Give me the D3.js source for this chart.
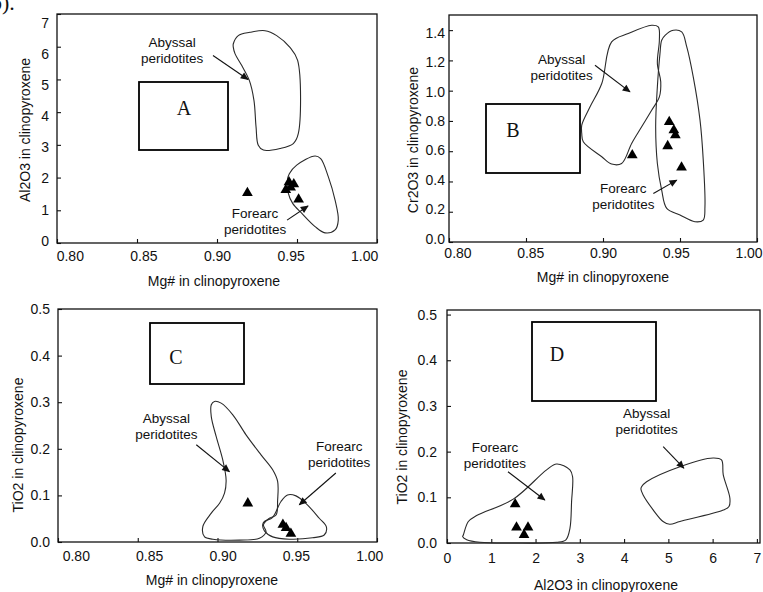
<!DOCTYPE html>
<html><head><meta charset="utf-8">
<script src="https://cdn.jsdelivr.net/npm/d3@7/dist/d3.min.js"></script>
<style>
body{margin:0;background:#fff}
svg{display:block}
text{font-family:"Liberation Sans",Arial,sans-serif;fill:#111}
</style>
</head><body>
<svg id="c" width="763" height="592"></svg>
<script>
// ---------------- DATA ----------------
const mgTicks = [0.80, 0.85, 0.90, 0.95, 1.00];
const al2o3Ticks = [0, 1, 2, 3, 4, 5, 6, 7];
const cr2o3Ticks = [0.0, 0.2, 0.4, 0.6, 0.8, 1.0, 1.2, 1.4];
const tio2Ticks = [0.0, 0.1, 0.2, 0.3, 0.4, 0.5];

// samples (triangles)
const aMg = [0.919, 0.943, 0.945, 0.946, 0.948, 0.951];
const aAl2O3 = [1.53, 1.62, 1.86, 1.70, 1.80, 1.33];
const bMg = [0.919, 0.943, 0.946, 0.947, 0.942, 0.951];
const bCr2O3 = [0.574, 0.794, 0.739, 0.706, 0.634, 0.493];
const cMg = [0.919, 0.941, 0.943, 0.946];
const cTiO2 = [0.083, 0.037, 0.030, 0.018];
const dAl2O3 = [1.54, 1.57, 1.83, 1.74];
const dTiO2 = [0.085, 0.034, 0.034, 0.018];

// fields (outlines), [x, y]
const aAbyssal = [[0.9102,6.09],[0.9133,6.34],[0.9206,6.44],[0.930,6.49],[0.9373,6.34],[0.9456,5.98],[0.9504,5.58],[0.9508,3.34],[0.9477,3.04],[0.9394,2.89],[0.929,2.84],[0.9258,2.99],[0.9244,3.55],[0.9231,4.36],[0.9202,4.97],[0.9154,5.43],[0.9113,5.78],[0.9102,5.98]];
const aForearc = [[0.9452,2.12],[0.9498,2.38],[0.9613,2.66],[0.9648,2.58],[0.9696,2.02],[0.9738,1.31],[0.9758,0.70],[0.9738,0.40],[0.9675,0.31],[0.9613,0.50],[0.9529,0.91],[0.9473,1.21],[0.9446,1.52],[0.944,1.92]];
const bAbyssal = [[0.8862,0.772],[0.8916,0.893],[0.8992,1.047],[0.9056,1.322],[0.9164,1.377],[0.9316,1.432],[0.9359,1.421],[0.9366,1.333],[0.9353,1.18],[0.9375,1.058],[0.9366,0.959],[0.9316,0.871],[0.9251,0.761],[0.9186,0.651],[0.9121,0.519],[0.9056,0.515],[0.8992,0.563],[0.8872,0.662],[0.8862,0.717]];
const bForearc = [[0.9403,1.366],[0.9457,1.399],[0.9511,1.388],[0.9544,1.289],[0.9586,1.091],[0.963,0.805],[0.9651,0.541],[0.9662,0.233],[0.9651,0.145],[0.9597,0.134],[0.95,0.178],[0.9414,0.222],[0.9381,0.343],[0.9353,0.519],[0.9342,0.761],[0.9353,1.025],[0.937,1.245],[0.9381,1.333]];
const cAbyssal = [[0.8961,0.2946],[0.8981,0.3017],[0.9023,0.298],[0.9096,0.273],[0.9179,0.230],[0.9273,0.187],[0.9346,0.155],[0.9377,0.130],[0.9377,0.090],[0.9367,0.058],[0.9325,0.051],[0.9288,0.037],[0.9304,0.022],[0.9263,0.008],[0.9138,0.004],[0.8971,0.006],[0.8919,0.011],[0.8908,0.033],[0.8961,0.062],[0.9013,0.083],[0.9044,0.105],[0.9054,0.133],[0.9033,0.176],[0.8992,0.226],[0.8961,0.269]];
const cForearc = [[0.9294,0.044],[0.9346,0.053],[0.9398,0.087],[0.9439,0.101],[0.9492,0.099],[0.9554,0.083],[0.9638,0.051],[0.9683,0.032],[0.9669,0.015],[0.9596,0.009],[0.945,0.006],[0.9346,0.011],[0.9294,0.024],[0.9283,0.037]];
const dForearc = [[0.369,0.0175],[0.482,0.047],[0.670,0.060],[1.497,0.096],[2.25,0.160],[2.476,0.173],[2.777,0.160],[2.837,0.145],[2.814,0.091],[2.777,0.032],[2.686,0.007],[2.476,0.0015],[1.497,0.0],[0.745,0.0015],[0.445,0.007],[0.354,0.014]];
const dAbyssal = [[4.395,0.123],[4.508,0.134],[5.26,0.167],[6.01,0.186],[6.20,0.182],[6.24,0.149],[6.39,0.098],[6.37,0.080],[6.24,0.072],[5.26,0.047],[5.03,0.041],[4.88,0.047],[4.66,0.072],[4.43,0.105],[4.38,0.118]];

// labels and annotation anchors (data units)
const fieldNames = ["Abyssal", "Forearc"];
const aNotes = [[0.8719,6.13,0.8975,5.73,0.9194,5.0],[0.9238,0.915,0.9438,0.70,0.9569,1.13]];
const bNotes = [[0.8732,1.2125,0.8948,1.168,0.9175,0.992],[0.9132,0.354,0.9327,0.321,0.9479,0.409]];
const cNotes = [[0.8679,0.266,0.8867,0.2086,0.9075,0.151],[0.9763,0.205,0.9742,0.148,0.9513,0.080]];
const dNotes = [[4.508,0.284,4.883,0.211,5.35,0.164],[1.084,0.211,1.377,0.156,2.21,0.094]];

// ---------------- DRAW ----------------
const svg = d3.select("#c");
const defs = svg.append("defs");
defs.append("marker").attr("id","ah").attr("viewBox","0 0 10 10")
  .attr("refX",9).attr("refY",5).attr("markerWidth",9).attr("markerHeight",8)
  .attr("markerUnits","userSpaceOnUse").attr("orient","auto")
  .append("path").attr("d","M0,0.5 L10,5 L0,9.5 Z").attr("fill","#111");

svg.append("text").attr("x",-9).attr("y",10).style("font-family","'Liberation Serif',serif")
  .style("font-size","22px").text("b).");

function panel(o){
  const g = svg.append("g");
  const x = d3.scaleLinear().domain(o.xd).range([o.l,o.r]);
  const y = d3.scaleLinear().domain(o.yd).range([o.b,o.t]);
  // axes
  const ax = g.append("g").attr("transform",`translate(0,${o.b})`)
    .call(d3.axisBottom(x).tickValues(o.xt).tickFormat(o.xf).tickSize(-4).tickPadding(o.xpad));
  const ay = g.append("g").attr("transform",`translate(${o.l},0)`)
    .call(d3.axisLeft(y).tickValues(o.yt).tickFormat(o.yf).tickSize(-4).tickPadding(o.ypad));
  [ax,ay].forEach(a=>{a.select(".domain").remove();
    a.selectAll("line").attr("stroke","#111").attr("stroke-width",1.1);
    a.selectAll("text").style("font-size","14px").style("font-family","'Liberation Sans',Arial,sans-serif").attr("fill","#111");});
  // label placement as in the scanned figure (slightly compressed relative to ticks)
  if (o.xl) ax.selectAll(".tick text").attr("x", d => (o.xl[0] - x(d)) * o.xl[1] + o.xl[2]);
  if (o.yl) ay.selectAll(".tick text").attr("y", d => (o.yl[0] - y(d)) * o.yl[1] + o.yl[2]);
  g.append("rect").attr("x",o.l).attr("y",o.t).attr("width",o.r-o.l).attr("height",o.b-o.t)
    .attr("fill","none").attr("stroke","#111").attr("stroke-width",1.3);
  // titles
  g.append("text").attr("x",o.xtx).attr("y",o.xty).attr("dy","0.35em").attr("text-anchor","middle")
    .style("font-size","14px").text(o.xtitle);
  g.append("text").attr("transform",`translate(${o.ytx},${o.yty}) rotate(-90)`).attr("dy","0.35em")
    .attr("text-anchor","middle").style("font-size","14px").text(o.ytitle);
  // fields
  const line = d3.line().x(d=>x(d[0])).y(d=>y(d[1])).curve(d3.curveCatmullRomClosed.alpha(0.5));
  o.fields.forEach(f=>g.append("path").attr("d",line(f)).attr("fill","none")
    .attr("stroke","#2a2a2a").attr("stroke-width",1.1));
  // samples
  const tri = d3.symbol().type(d3.symbolTriangle).size(50);
  g.selectAll(".s").data(o.sx.map((v,i)=>[v,o.sy[i]])).enter().append("path")
    .attr("transform",d=>`translate(${x(d[0])},${y(d[1])})`).attr("d",tri()).attr("fill","#000");
  // notes
  o.notes.forEach((n,i)=>{
    const t = g.append("text").attr("text-anchor","middle").style("font-size","13.5px");
    t.append("tspan").attr("x",x(n[0])).attr("y",y(n[1])+5).text(o.names[i]);
    t.append("tspan").attr("x",x(n[0])).attr("y",y(n[1])+21).text("peridotites");
    g.append("line").attr("x1",x(n[2])).attr("y1",y(n[3])).attr("x2",x(n[4])).attr("y2",y(n[5]))
      .attr("stroke","#111").attr("stroke-width",1.1).attr("marker-end","url(#ah)");
  });
  // letter box
  g.append("rect").attr("x",o.box[0]).attr("y",o.box[1]).attr("width",o.box[2]).attr("height",o.box[3])
    .attr("fill","#fff").attr("stroke","#000").attr("stroke-width",1.8);
  g.append("text").attr("x",o.box[4]).attr("y",o.box[5]).attr("dy","0.35em").attr("text-anchor","middle")
    .style("font-family","'Liberation Serif',serif").style("font-size","20px").text(o.letter);
}

const f2 = d3.format(".2f"), f1 = d3.format(".1f"), f0 = d3.format("d");

panel({l:57,r:377,t:14,b:243,xd:[0.8,1.0],yd:[0,7],xt:mgTicks,yt:al2o3Ticks,xf:f2,yf:f0,xpad:8,ypad:8,
  xl:[217,0.08,0], yl:[135,0.05,3],
  xtitle:"Mg# in clinopyroxene",xtx:214,xty:281,ytitle:"Al2O3 in clinopyroxene",ytx:25,yty:130,
  fields:[aAbyssal,aForearc],sx:aMg,sy:aAl2O3,notes:aNotes,names:fieldNames,
  box:[139,82,89,68,184,108],letter:"A"});
panel({l:449,r:757,t:15,b:242,xd:[0.8,1.0],yd:[0,1.5],xt:mgTicks,yt:cr2o3Ticks,xf:f2,yf:f1,xpad:6,ypad:4,
  xl:[603,0.055,0], yl:[128,0.03,0],
  xtitle:"Mg# in clinopyroxene",xtx:603,xty:277,ytitle:"Cr2O3 in clinopyroxene",ytx:413,yty:140,
  fields:[bAbyssal,bForearc],sx:bMg,sy:bCr2O3,notes:bNotes,names:fieldNames,
  box:[486,104,94,69,513,130],letter:"B"});
panel({l:58,r:377,t:309,b:542,xd:[0.8,1.0],yd:[0,0.5],xt:mgTicks,yt:tio2Ticks,xf:f2,yf:f1,xpad:9,ypad:8,
  xl:[218,0.08,5],
  xtitle:"Mg# in clinopyroxene",xtx:212,xty:580,ytitle:"TiO2 in clinopyroxene",ytx:18,yty:445,
  fields:[cAbyssal,cForearc],sx:cMg,sy:cTiO2,notes:cNotes,names:fieldNames,
  box:[150,323,94,61,176,357],letter:"C"});
panel({l:447,r:760,t:310,b:543,xd:[0,7.07],yd:[0,0.51],xt:al2o3Ticks,yt:tio2Ticks,xf:f0,yf:f1,xpad:10,ypad:10,
  xtitle:"Al2O3 in clinopyroxene",xtx:606,xty:585,ytitle:"TiO2 in clinopyroxene",ytx:402,yty:437,
  fields:[dForearc,dAbyssal],sx:dAl2O3,sy:dTiO2,notes:dNotes,names:["Abyssal","Forearc"],
  box:[532,322,124,79,557,354],letter:"D"});
</script>
</body></html>
